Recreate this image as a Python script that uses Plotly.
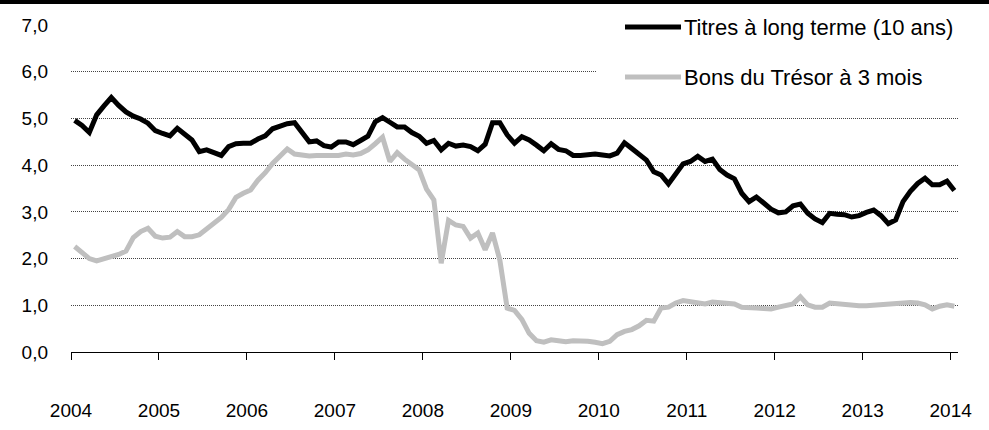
import plotly.graph_objects as go

# ---- data (monthly, Jan 2004 - Jan 2014) ----
year_labels = ["2004", "2005", "2006", "2007", "2008", "2009",
               "2010", "2011", "2012", "2013", "2014"]

long_term = [
    4.96, 4.85, 4.70, 5.08, 5.27, 5.45, 5.28, 5.14, 5.05, 4.99, 4.90, 4.74,
    4.68, 4.63, 4.79, 4.66, 4.54, 4.29, 4.33, 4.27, 4.21, 4.40, 4.46, 4.47,
    4.47, 4.56, 4.63, 4.78, 4.84, 4.89, 4.91, 4.72, 4.50, 4.52, 4.42, 4.39,
    4.50, 4.50, 4.44, 4.53, 4.62, 4.93, 5.02, 4.92, 4.82, 4.82, 4.70, 4.62,
    4.47, 4.53, 4.33, 4.47, 4.41, 4.43, 4.40, 4.31, 4.45, 4.91, 4.91, 4.65,
    4.47, 4.61, 4.54, 4.43, 4.31, 4.46, 4.34, 4.31, 4.21, 4.21, 4.22, 4.24,
    4.22, 4.20, 4.26, 4.48, 4.36, 4.24, 4.11, 3.86, 3.79, 3.60, 3.83, 4.03,
    4.08, 4.19, 4.08, 4.13, 3.91, 3.79, 3.71, 3.40, 3.22, 3.32, 3.19, 3.06,
    2.98, 3.00, 3.13, 3.17, 2.97, 2.85, 2.77, 2.97, 2.95, 2.94, 2.89, 2.92,
    2.99, 3.04, 2.92, 2.75, 2.83, 3.22, 3.44, 3.61, 3.72, 3.58, 3.58, 3.66,
    3.46,
]

tbills = [
    2.26, 2.13, 2.00, 1.95, 1.99, 2.04, 2.09, 2.16, 2.45, 2.58, 2.65, 2.48,
    2.44, 2.46, 2.58, 2.47, 2.47, 2.51, 2.63, 2.77, 2.88, 3.05, 3.31, 3.40,
    3.47, 3.68, 3.84, 4.04, 4.19, 4.35, 4.24, 4.22, 4.20, 4.21, 4.21, 4.21,
    4.21, 4.24, 4.22, 4.25, 4.33, 4.46, 4.60, 4.08, 4.27, 4.13, 4.03, 3.90,
    3.49, 3.26, 1.90, 2.82, 2.72, 2.69, 2.44, 2.55, 2.19, 2.55, 1.97, 0.94,
    0.89, 0.70, 0.40, 0.24, 0.21, 0.26, 0.24, 0.22, 0.24, 0.24, 0.23, 0.21,
    0.18, 0.23, 0.37, 0.44, 0.48, 0.56, 0.68, 0.66, 0.94, 0.96, 1.05, 1.10,
    1.08, 1.06, 1.03, 1.07, 1.05, 1.03, 1.03, 0.96, 0.94, 0.94, 0.93, 0.92,
    0.96, 0.99, 1.03, 1.18, 1.01, 0.96, 0.96, 1.05, 1.03, 1.01, 0.99, 0.99,
    0.99, 1.00, 1.01, 1.02, 1.03, 1.06, 1.06, 1.05, 1.01, 0.92, 0.98, 1.01,
    0.98,
]

series_names = ["Titres à long terme (10 ans)", "Bons du Trésor à 3 mois"]
y_ticks = [0, 1, 2, 3, 4, 5, 6, 7]
y_tick_text = ["0,0", "1,0", "2,0", "3,0", "4,0", "5,0", "6,0", "7,0"]

# ---- figure ----
FONT = "Arial, Liberation Sans, sans-serif"
BLACK = "#000000"
GREY = "#BFBFBF"

months = list(range(len(long_term)))
tick_pos = [i * 12 - 0.5 for i in range(len(year_labels))]

fig = go.Figure()
fig.add_trace(go.Scatter(x=months, y=tbills, mode="lines", name=series_names[1],
                         line=dict(color=GREY, width=5), showlegend=False))
fig.add_trace(go.Scatter(x=months, y=long_term, mode="lines", name=series_names[0],
                         line=dict(color=BLACK, width=5), showlegend=False))

W, H = 989, 430
ML, MR, MT, MB = 71, 31, 25, 78
pw = W - ML - MR
ph = H - MT - MB


def px(x):
    return (x - ML) / pw


def py(y):
    return (H - MB - y) / ph


shapes = [
    # top black band
    dict(type="rect", xref="paper", yref="paper", x0=px(0), x1=px(W),
         y0=py(4), y1=py(0), fillcolor=BLACK, line=dict(width=0), layer="above"),
    # white area behind the legend
    dict(type="rect", xref="paper", yref="paper", x0=px(596), x1=px(960),
         y0=py(97), y1=py(10), fillcolor="white", line=dict(width=0), layer="above"),
]
annotations = []
legend_rows = [(27, BLACK, series_names[0]), (77, GREY, series_names[1])]
for yy, col, name in legend_rows:
    shapes.append(dict(type="line", xref="paper", yref="paper",
                       x0=px(625), x1=px(681), y0=py(yy), y1=py(yy),
                       line=dict(color=col, width=5), layer="above"))
    annotations.append(dict(text=name, xref="paper", yref="paper",
                            x=px(682), y=py(yy), xanchor="left", yanchor="middle",
                            showarrow=False, font=dict(family=FONT, size=22, color=BLACK)))

fig.update_layout(
    width=W, height=H,
    margin=dict(l=ML, r=MR, t=MT, b=MB),
    paper_bgcolor="white", plot_bgcolor="white",
    font=dict(family=FONT, size=19, color=BLACK),
    shapes=shapes, annotations=annotations,
    showlegend=False,
)
fig.update_xaxes(
    range=[-0.5, len(long_term) - 0.5],
    automargin=False,
    tickmode="array", tickvals=tick_pos, ticktext=year_labels,
    showgrid=False, zeroline=False,
    showline=True, linecolor=BLACK, linewidth=1,
    ticks="outside", ticklen=7, tickcolor=BLACK, tickwidth=1,
    ticklabelstandoff=34,
    tickfont=dict(family=FONT, size=19, color=BLACK),
)
fig.update_yaxes(
    range=[0, 7.003],
    automargin=False,
    tickmode="array", tickvals=y_ticks, ticktext=y_tick_text,
    showgrid=True, gridcolor="#444444", gridwidth=1, griddash="1px,1px",
    zeroline=False, showline=False, ticks="",
    ticklabelstandoff=22,
    tickfont=dict(family=FONT, size=19, color=BLACK),
)

page_fix = (
    "var s=[document.documentElement.style, document.body.style];"
    "s.forEach(function(t){t.margin='0';t.padding='0';t.overflow='hidden';t.height='430px';});"
)

fig.write_html(
    "out.html",
    config={"displayModeBar": False},
    post_script=page_fix,
)
